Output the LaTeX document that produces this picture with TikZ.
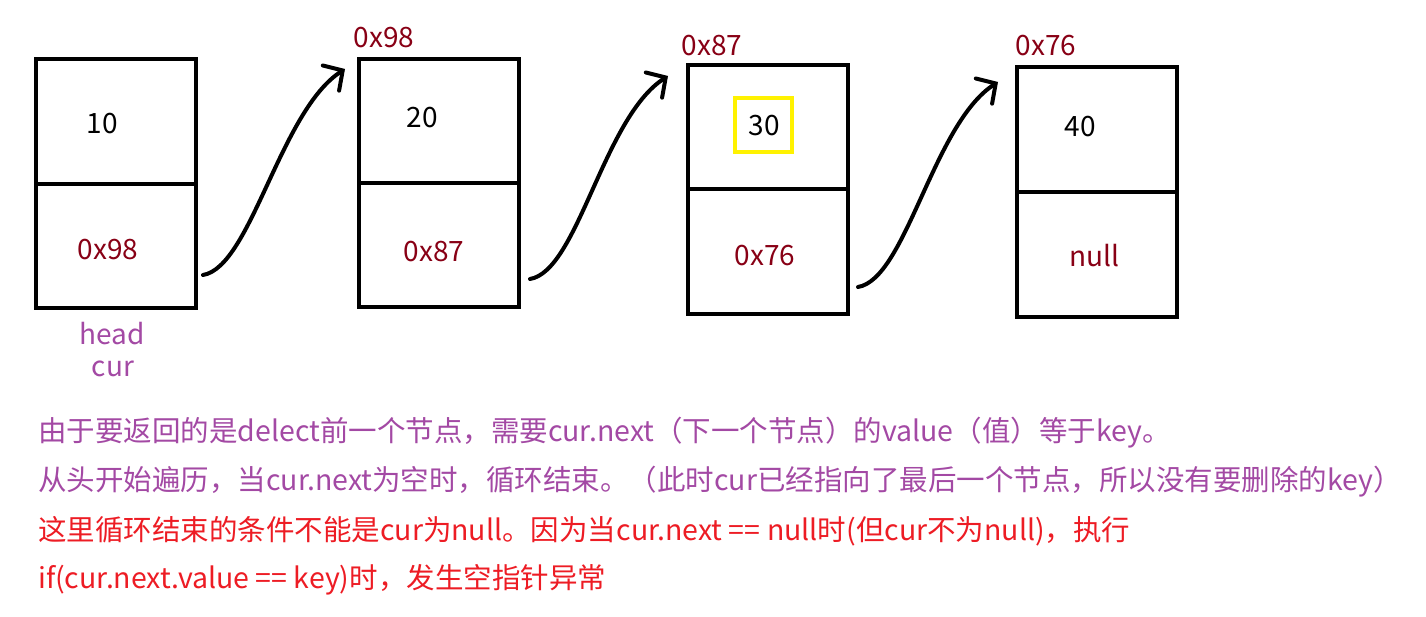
\documentclass[tikz,border=0pt]{standalone}
\usepackage{fontspec}
\setmainfont{Noto Sans CJK SC}
\usetikzlibrary{arrows.meta}
\definecolor{addr}{HTML}{880015}
\definecolor{note}{HTML}{A349A4}
\definecolor{warn}{HTML}{ED1C24}
\definecolor{hl}{HTML}{FFF200}
\tikzset{
  cell/.style={draw=black, line width=4pt, minimum width=160pt, inner sep=0pt, outer sep=0pt, anchor=north west},
  val/.style={inner sep=0pt, anchor=center, text=black},
  adr/.style={inner sep=0pt, anchor=center, text=addr},
  lbl/.style={inner sep=0pt, anchor=center, text=note},
  line/.style={inner sep=0pt, anchor=west, font=\fontsize{28.5}{32}\selectfont},
  link/.style={line width=4pt, line cap=round, -{Straight Barb[length=14pt,width=30pt,line cap=round]}},
}
\begin{document}
\begin{tikzpicture}[x=1pt,y=-1pt,font=\fontsize{28}{32}\selectfont]
\useasboundingbox (0,0) rectangle (1426,616);
% box 1
\node[cell, minimum height=125pt] (n1t) at (36,59) {};
\node[cell, minimum height=124pt] (n1b) at (36,184) {};
\node[val] (v1) at (102,124) {10};
\node[adr] (p1) at (108,250) {0x98};
\node[lbl] (hd) at (112,334) {head};
\node[lbl] (cr) at (113,369) {cur};
% box 2
\node[cell, minimum height=124pt] (n2t) at (359,59) {};
\node[cell, minimum height=124pt] (n2b) at (359,183) {};
\node[adr] (a2) at (384,38) {0x98};
\node[val] (v2) at (422,118) {20};
\node[adr] (p2) at (434,252) {0x87};
% box 3
\node[cell, minimum height=124pt] (n3t) at (688,65) {};
\node[cell, minimum height=125pt] (n3b) at (688,189) {};
\node[adr] (a3) at (712,46) {0x87};
\node[draw=hl, line width=4pt, minimum width=57pt, minimum height=54pt, inner sep=0pt] (hlbox) at (763.5,125) {};
\node[val] (v3) at (764,126) {30};
\node[adr] (p3) at (765,256) {0x76};
% box 4
\node[cell, minimum height=125pt] (n4t) at (1017,67) {};
\node[cell, minimum height=125pt] (n4b) at (1017,192) {};
\node[adr] (a4) at (1046,46) {0x76};
\node[val] (v4) at (1080,127) {40};
\node[adr] (p4) at (1094,256) {null};
% links
\coordinate (s1) at (203,275);
\coordinate (e1) at (345,69);
\coordinate (s2) at (530,279);
\coordinate (e2) at (668,76);
\coordinate (s3) at (858,287);
\coordinate (e3) at (998,82);
\draw[link] (s1) .. controls +(48,-8) and +(-65,42) .. (e1);
\draw[link] (s2) .. controls +(48,-8) and +(-65,42) .. (e2);
\draw[link] (s3) .. controls +(48,-8) and +(-65,42) .. (e3);
% notes
\node[line, text=note] (t1) at (38,433) {由于要返回的是delect前一个节点，需要cur.next（下一个节点）的value（值）等于key。};
\node[line, text=note] (t2) at (38,482) {从头开始遍历，当cur.next为空时，循环结束。（此时cur已经指向了最后一个节点，所以没有要删除的key）};
\node[line, text=warn] (t3) at (38,531) {这里循环结束的条件不能是cur为null。因为当cur.next\ ==\ null时(但cur不为null)，执行};
\node[line, text=warn] (t4) at (38,580) {if(cur.next.value\ ==\ key)时，发生空指针异常};
\end{tikzpicture}
\end{document}
